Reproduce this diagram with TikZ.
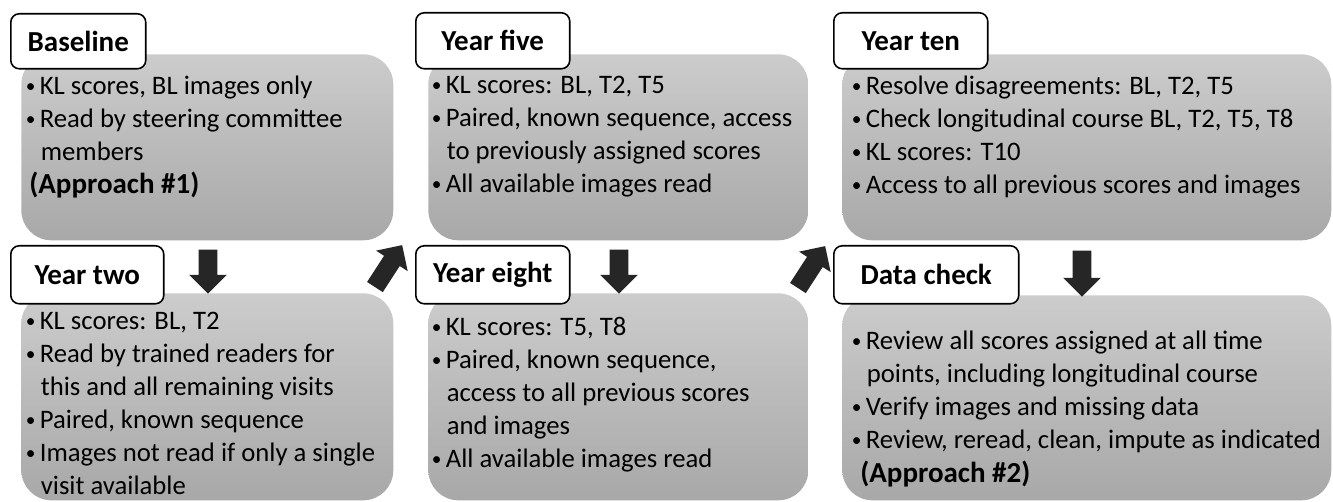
\documentclass[tikz,border=0pt]{standalone}
\usepackage{fontspec}
\setmainfont{Carlito}
\usetikzlibrary{shapes.arrows,positioning}
\definecolor{paneltop}{RGB}{204,204,204}
\definecolor{panelbot}{RGB}{168,168,168}
\definecolor{arrowgray}{RGB}{38,38,38}
\tikzset{
  panel/.style={anchor=north west, inner sep=0pt, rounded corners=0.6cm,
    top color=paneltop, bottom color=panelbot, draw=none},
  tag/.style={anchor=north west, draw=black, line width=0.9pt, fill=white,
    rounded corners=0.17cm, inner sep=0pt, font=\fontsize{16.5}{19}\selectfont\bfseries},
  body/.style={anchor=north west, inner sep=0pt, align=left,
    font=\fontsize{15.2}{18.8}\selectfont},
  blockarrow/.style={single arrow, fill=arrowgray, draw=none, inner xsep=0pt,
    inner ysep=0.18cm, single arrow head extend=0.19cm},
}
\newcommand{\bul}{\makebox[0.31cm][l]{\hspace*{0.03cm}\raisebox{0.05cm}{\fontsize{11}{11}\selectfont\textbullet}}}
\newcommand{\cnt}{\hspace*{0.33cm}}
\newcommand{\appr}[1]{{\fontsize{16.5}{18.8}\selectfont\bfseries (Approach \##1)}}

\begin{document}
\begin{tikzpicture}[x=0.02cm, y=-0.02cm]
  \useasboundingbox (0,0) rectangle (1333,502);

  % grey panels
  \node[panel, minimum width=7.44cm, minimum height=3.72cm] (basebox)  at (21,54)   {};
  \node[panel, minimum width=7.44cm, minimum height=4.14cm] (twobox)   at (21,293)  {};
  \node[panel, minimum width=7.6cm,  minimum height=3.72cm] (fivebox)  at (428,54)  {};
  \node[panel, minimum width=7.6cm,  minimum height=4.14cm] (eightbox) at (428,293) {};
  \node[panel, minimum width=9.78cm, minimum height=3.72cm] (tenbox)   at (842,54)  {};
  \node[panel, minimum width=9.78cm, minimum height=4.1cm]  (checkbox) at (842,295) {};

  % tabs
  \node[tag, minimum width=2.7cm,  minimum height=1.1cm]  (basetag)  at (10,13)   {Baseline};
  \node[tag, minimum width=3.06cm, minimum height=1.16cm] (twotag)   at (10,245)  {Year two};
  \node[tag, minimum width=3.08cm, minimum height=1.12cm] (fivetag)  at (415,12)  {Year five};
  \node[tag, minimum width=3.08cm, minimum height=1.16cm] (eighttag) at (415,245) {Year eight};
  \node[tag, minimum width=3.08cm, minimum height=1.12cm] (tentag)   at (833,12)  {Year ten};
  \node[tag, minimum width=3.7cm,  minimum height=1.16cm] (checktag) at (833,245) {Data check};

  % panel texts
  \node[body] (basetext) at (24,76) {\bul KL scores, BL images only\\
    \bul Read by steering committee\\ \cnt members\\ \hspace*{0.1cm}\appr{1}};
  \node[body] (twotext) at (24,312) {\bul KL scores: BL, T2\\
    \bul Read by trained readers for\\ \cnt this and all remaining visits\\
    \bul Paired, known sequence\\ \bul Images not read if only a single\\
    \cnt visit available};
  \node[body] (fivetext) at (430,76) {\bul KL scores: BL, T2, T5\\
    \bul Paired, known sequence, access\\ \cnt to previously assigned scores\\
    \bul All available images read};
  \node[body] (eighttext) at (430,317) {\bul KL scores: T5, T8\\
    \bul Paired, known sequence,\\ \cnt access to all previous scores\\
    \cnt and images\\ \bul All available images read};
  \node[body] (tentext) at (850,76) {\bul Resolve disagreements: BL, T2, T5\\
    \bul Check longitudinal course BL, T2, T5, T8\\ \bul KL scores: T10\\
    \bul Access to all previous scores and images};
  \node[body] (checktext) at (850,331) {\bul Review all scores assigned at all time\\
    \cnt points, including longitudinal course\\ \bul Verify images and missing data\\
    \bul Review, reread, clean, impute as indicated\\ \hspace*{0.2cm}\appr{2}};

  % block arrows
  \foreach \n/\x/\y/\r/\l in {1/208/267/-90/0.88, 2/619/267/-90/0.88, 3/1082/269/-90/0.92,
                              4/386/270/57/1.0, 5/809/271/57/1.0}
    \node[blockarrow, rotate=\r, minimum height=\l cm] (arrow\n) at (\x,\y) {};
\end{tikzpicture}
\end{document}
